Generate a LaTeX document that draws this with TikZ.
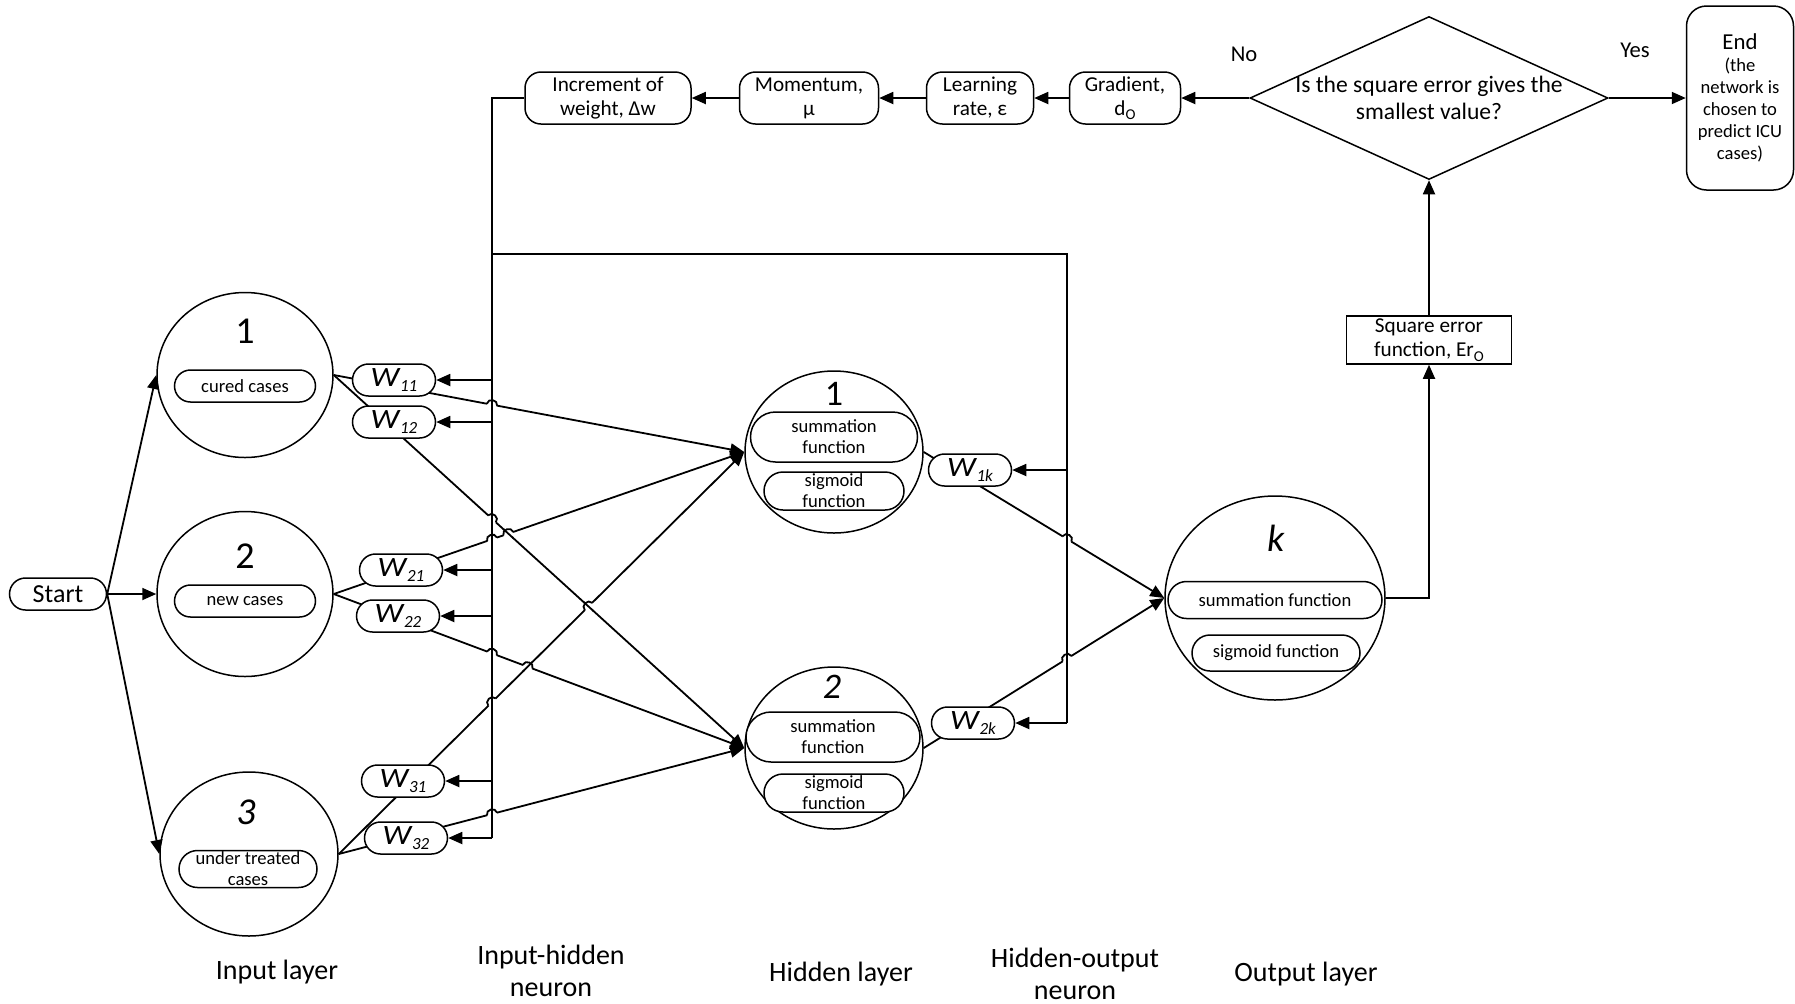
\documentclass[tikz,border=0pt]{standalone}
\usepackage{fontspec}
\setmainfont{Carlito}
\usetikzlibrary{arrows.meta,positioning,calc,shapes.geometric,shapes.misc,intersections}

\newcommand{\wsub}[1]{\scalebox{1.15}[1]{\textit{W}}\kern-0.3pt\raisebox{-2.2pt}{\fontsize{8.5}{9}\selectfont\itshape #1}}
\newcommand{\osub}[1]{#1\raisebox{-0.45ex}{\fontsize{7.5}{8}\selectfont O}}

\begin{document}
\begin{tikzpicture}[
    x=0.5pt, y=-0.5pt,
    >={Triangle[length=7pt,width=6pt]},
    arr/.style={->, line width=0.9pt},
    ln/.style={line width=0.9pt},
    pill/.style={draw, rounded rectangle, line width=0.75pt, fill=white, inner sep=0pt, align=center},
    wpill/.style={pill, minimum width=41.5pt, minimum height=16pt, font=\fontsize{14}{14}\selectfont},
    neuron/.style={draw, ellipse, line width=0.75pt, inner sep=0pt},
    num/.style={font=\fontsize{19}{20}\selectfont},
    ptxt/.style={font=\fontsize{9.3}{10.5}\selectfont},
    box/.style={draw, rounded corners=8pt, line width=0.75pt, align=center, inner sep=0pt, minimum height=26pt, font=\fontsize{10.6}{12}\selectfont},
    lbl/.style={align=center, font=\fontsize{14}{16}\selectfont}
]
    \useasboundingbox (0,0) rectangle (1795,1003);

    \node[pill, minimum width=48.5pt, minimum height=16pt, font=\fontsize{13}{14}\selectfont] (start) at (58,594) {Start};

    \node[neuron, minimum width=88pt, minimum height=82.5pt] (i1) at (245,375) {};
    \node[neuron, minimum width=88pt, minimum height=82.5pt] (i2) at (245,594) {};
    \node[neuron, minimum width=89pt, minimum height=82pt] (i3) at (249,854) {};
    \node[num] (i1n) at (245,331) {1};
    \node[num] (i2n) at (245,556) {2};
    \node[num] (i3n) at (246,812) {\textit{3}};
    \node[pill, ptxt, minimum width=70.5pt, minimum height=16pt] (i1t) at (245,386) {cured cases};
    \node[pill, ptxt, minimum width=70.5pt, minimum height=16pt] (i2t) at (245,601) {new cases};
    \node[pill, ptxt, minimum width=69pt, minimum height=18.5pt] (i3t) at (248,869) {under treated\\cases};

    \node[neuron, minimum width=89pt, minimum height=81pt] (h1) at (834,452) {};
    \node[neuron, minimum width=89pt, minimum height=81pt] (h2) at (834,748) {};
    \node[num, font=\fontsize{18}{18}\selectfont] (h1n) at (834,394) {1};
    \node[num, font=\fontsize{18}{18}\selectfont] (h2n) at (832,687) {\textit{2}};
    \node[pill, ptxt, minimum width=83.5pt, minimum height=25pt] (h1s) at (834,437) {summation\\function};
    \node[pill, ptxt, minimum width=70pt, minimum height=19pt] (h1g) at (834,491) {sigmoid\\function};
    \node[pill, ptxt, minimum width=87pt, minimum height=25pt] (h2s) at (833,737) {summation\\function};
    \node[pill, ptxt, minimum width=70pt, minimum height=19pt] (h2g) at (834,793) {sigmoid\\function};

    \node[neuron, minimum width=110pt, minimum height=102pt] (o) at (1275,598) {};
    \node[num] (on) at (1276,538) {\textit{k}};
    \node[pill, ptxt, minimum width=107pt, minimum height=18.5pt] (os) at (1275,600) {summation function};
    \node[pill, ptxt, minimum width=84pt, minimum height=18pt] (og) at (1276,653) {sigmoid function};

    \node[draw, line width=0.75pt, minimum width=82.5pt, minimum height=24pt, inner sep=0pt, align=center, font=\fontsize{10.6}{12}\selectfont] (sq) at (1429,340) {Square error\\function, \osub{Er}};
    \node[draw, diamond, shape aspect=2.2, line width=0.75pt, inner sep=-1.5pt, minimum width=179pt, minimum height=81.5pt, align=center, font=\fontsize{11.8}{13.5}\selectfont] (dec) at (1429,98) {Is the square error gives the\\smallest value?};
    \node[draw, rounded corners=10pt, line width=0.75pt, minimum width=53.5pt, minimum height=92pt, inner sep=0pt, align=center, font=\fontsize{9.3}{11}\selectfont] (end) at (1740,98) {{\fontsize{11.4}{12}\selectfont End}\\(the\\network is\\chosen to\\predict ICU\\cases)};

    \node[box, minimum width=55.5pt] (grad) at (1125,98) {Gradient,\\\osub{d}};
    \node[box, minimum width=53.5pt] (lr) at (980,98) {Learning\\rate, ε};
    \node[box, minimum width=69.5pt] (mom) at (809,98) {Momentum,\\μ};
    \node[box, minimum width=83pt] (inc) at (608,98) {Increment of\\weight, Δw};

    \node[font=\fontsize{11.3}{12}\selectfont] (no) at (1244,54) {No};
    \node[font=\fontsize{11.3}{12}\selectfont] (yes) at (1635,50) {Yes};

    \node[lbl] (lin) at (277,972) {Input layer};
    \node[lbl] (lih) at (551,971) {Input-hidden\\neuron};
    \node[lbl] (lhid) at (841,974) {Hidden layer};
    \node[lbl] (lho) at (1075,974) {Hidden-output\\neuron};
    \node[lbl] (lout) at (1306,974) {Output layer};

    \coordinate (b1t) at (492,98);
    \coordinate (b1b) at (492,838);
    \coordinate (b2t) at (1067,254);
    \coordinate (b2b) at (1067,723);
    \draw[ln] (inc.west) -- (b1t) -- (b1b);
    \draw[ln] (b1t |- b2t) -- (b2t) -- (b2b);

    \foreach \a in {i1,i2,i3} {
        \draw[arr] (start.east) -- (\a.west);
        \foreach \b in {h1,h2}
            \draw[arr] (\a.east) -- (\b.west);
    }
    \foreach \a in {h1,h2}
        \draw[arr] (\a.east) -- (o.west);

    \foreach \p/\q/\r/\s in {i1.east/h1.west/b1t/b1b, i1.east/h2.west/b1t/b1b, i2.east/h1.west/b1t/b1b,
        i2.east/h2.west/b1t/b1b, i3.east/h1.west/b1t/b1b, i3.east/h2.west/b1t/b1b,
        h1.east/o.west/b2t/b2b, h2.east/o.west/b2t/b2b, i2.east/h1.west/i1.east/h2.west,
        i3.east/h1.west/i1.east/h2.west, i2.east/h2.west/i3.east/h1.west} {
        \path[name path=pa] (\p) -- (\q);
        \path[name path=pb] (\r) -- (\s);
        \path[name intersections={of=pa and pb, by=hx}];
        \fill[white] (hx) circle (2.6pt);
        \draw[ln] ($(hx)!3.4pt!(\r)$) -- ($(hx)!3.4pt!(\s)$);
        \draw[ln] ($(hx)!2.6pt!(\p)$) to[bend left=90, looseness=1.5] ($(hx)!2.6pt!(\q)$);
    }

    \node[wpill] (w11) at (394,380) {\wsub{11}};
    \node[wpill] (w12) at (394,422) {\wsub{12}};
    \node[wpill] (w21) at (401,570) {\wsub{21}};
    \node[wpill] (w22) at (398,616) {\wsub{22}};
    \node[wpill] (w31) at (403,781) {\wsub{31}};
    \node[wpill] (w32) at (406,838) {\wsub{32}};
    \node[wpill] (w1k) at (970,470) {\wsub{1k}};
    \node[wpill] (w2k) at (973,723) {\wsub{2k}};

    \foreach \w in {w11,w12,w21,w22,w31,w32}
        \draw[arr] (\w.east -| b1t) -- (\w.east);
    \foreach \w in {w1k,w2k}
        \draw[arr] (\w.east -| b2t) -- (\w.east);

    \draw[arr] (o.east) -| (sq.south);
    \draw[arr] (sq.north) -- (dec.south);
    \draw[arr] (dec.west) -- (grad.east);
    \draw[arr] (grad.west) -- (lr.east);
    \draw[arr] (lr.west) -- (mom.east);
    \draw[arr] (mom.west) -- (inc.east);
    \draw[arr] (dec.east) -- (end.west);
\end{tikzpicture}
\end{document}
